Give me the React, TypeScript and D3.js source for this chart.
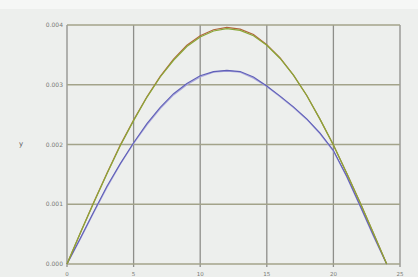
import React from "react";
import * as d3 from "d3";

const xValues = [0,1,2,3,4,5,6,7,8,9,10,11,12,13,14,15,16,17,18,19,20,21,22,23,24];
const greenSeries = [0,0.00052,0.00102,0.00151,0.00198,0.00240,0.00279,0.00313,0.00341,0.00364,0.00380,0.00390,0.00394,0.00391,0.00382,0.00366,0.00344,0.00316,0.00282,0.00242,0.00199,0.00152,0.00103,0.00052,0];
const redSeries = [0,0.00052,0.00103,0.00152,0.00199,0.00241,0.00280,0.00314,0.00343,0.00366,0.00382,0.00392,0.00396,0.00393,0.00384,0.00367,0.00345,0.00316,0.00282,0.00242,0.00199,0.00152,0.00103,0.00052,0];
const blueSeries = [0,0.00043,0.00087,0.00130,0.00168,0.00203,0.00235,0.00262,0.00285,0.00302,0.00315,0.00322,0.00324,0.00322,0.00313,0.00298,0.00281,0.00263,0.00243,0.00219,0.00190,0.00147,0.00098,0.00048,0];
const lavenderSeries = [0,0.00042,0.00086,0.00128,0.00167,0.00202,0.00233,0.00260,0.00283,0.00300,0.00313,0.00321,0.00323,0.00321,0.00311,0.00297,0.00280,0.00262,0.00242,0.00218,0.00189,0.00146,0.00097,0.00047,0];
const yTicks = [0,0.001,0.002,0.003,0.004];
const yTickLabels = ["0.000","0.001","0.002","0.003","0.004"];
const xTicks = [0,5,10,15,20,25];
const xTickLabels = ["0","5","10","15","20","25"];
const yTitle = "y";

export default function App() {
  const W = 418, H = 277;
  const x = d3.scaleLinear().domain([0, 25]).range([67, 400]);
  const y = d3.scaleLinear().domain([0, 0.004]).range([264, 25]);
  const line = (vals: number[]) =>
    d3.line<number>().x((_, i) => x(xValues[i])).y((v) => y(v)).curve(d3.curveLinear)(vals) || "";
  const series = [
    { vals: lavenderSeries, color: "#aaa7dc", w: 1.3 },
    { vals: blueSeries, color: "#6060b8", w: 1.1 },
    { vals: redSeries, color: "#b0663a", w: 1.2 },
    { vals: greenSeries, color: "#8aa838", w: 1.2 },
  ];
  return (
    <svg width={W} height={H} style={{ position: "absolute", left: 0, top: 0 }}
      fontFamily="DejaVu Sans, sans-serif">
      <rect x={0} y={0} width={W} height={H} fill="#edefed" />
      <rect x={0} y={0} width={W} height={9} fill="#f6f7f6" />
      {xTicks.map((t) => (
        <line key={"vx" + t} x1={x(t)} x2={x(t)} y1={y(0.004)} y2={y(0) + 3}
          stroke="#8e8e8a" strokeWidth={1.3} />
      ))}
      {yTicks.map((t) => (
        <line key={"hy" + t} x1={x(0)} x2={x(25)} y1={y(t)} y2={y(t)}
          stroke="#a3a38a" strokeWidth={1.5} />
      ))}
      {yTicks.map((t, i) => (
        <text key={"ty" + t} x={63} y={y(t) + 2} fontSize={6} fill="#7a7a76" textAnchor="end">
          {yTickLabels[i]}
        </text>
      ))}
      {xTicks.map((t, i) => (
        <text key={"tx" + t} x={x(t)} y={275.5} fontSize={5.5} fill="#7a7a76" textAnchor="middle">
          {xTickLabels[i]}
        </text>
      ))}
      <text x={21} y={146} fontSize={7} fill="#555" textAnchor="middle">{yTitle}</text>
      {series.map((s, i) => (
        <path key={i} d={line(s.vals)} fill="none" stroke={s.color} strokeWidth={s.w} />
      ))}
    </svg>
  );
}
